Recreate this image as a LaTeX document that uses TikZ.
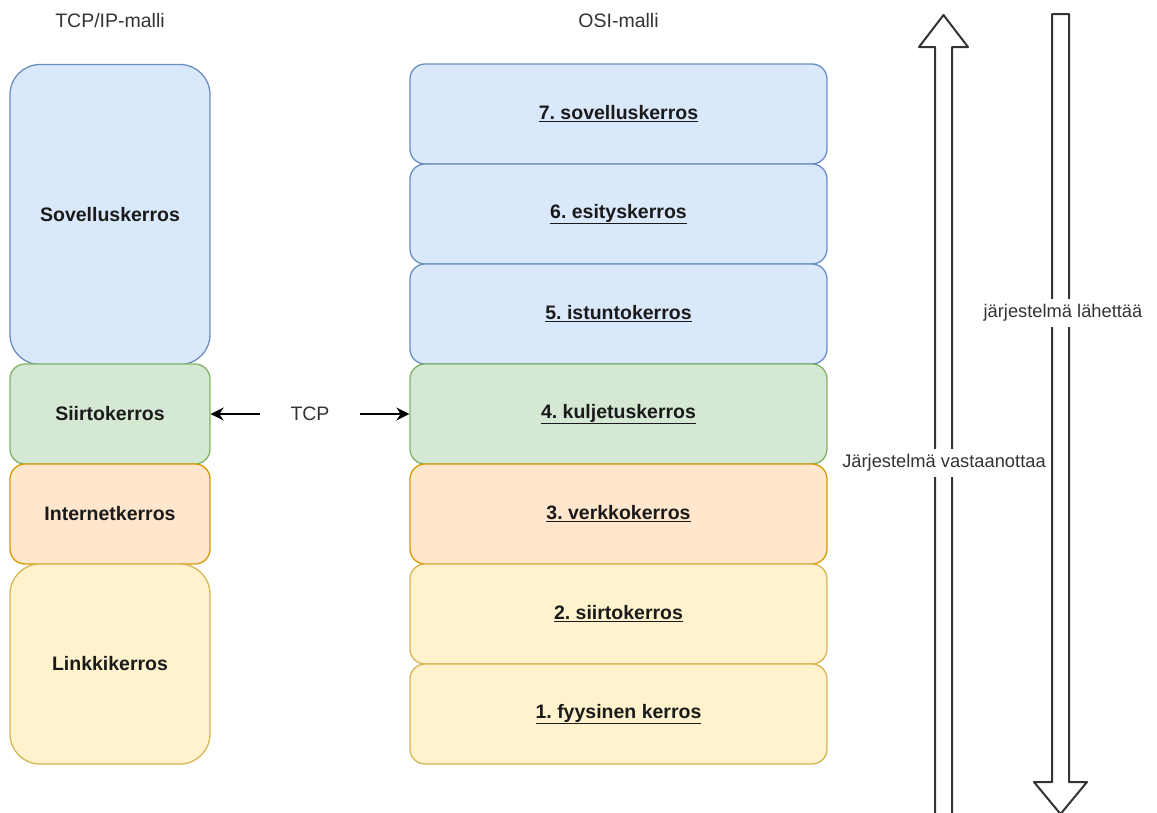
\documentclass[tikz,border=0pt]{standalone}
\usepackage{fontspec}
\setmainfont{Liberation Sans}
\usetikzlibrary{arrows.meta}
\frenchspacing
\definecolor{bluefill}{HTML}{DAE8FC}\definecolor{bluedraw}{HTML}{6C8EBF}
\definecolor{greenfill}{HTML}{D5E8D4}\definecolor{greendraw}{HTML}{82B366}
\definecolor{orangefill}{HTML}{FFE6CC}\definecolor{orangedraw}{HTML}{D79B00}
\definecolor{yellowfill}{HTML}{FFF2CC}\definecolor{yellowdraw}{HTML}{D6B656}
\definecolor{labeltext}{HTML}{1A1A1A}\definecolor{plaintext}{HTML}{333333}
\newcommand{\uline}[1]{\underline{#1}}
\begin{document}
\begin{tikzpicture}[x=1pt,y=-1pt,
  layer/.style={draw, line width=1.3pt, inner sep=0pt, text=labeltext,
    font=\fontsize{19.5}{22}\selectfont\bfseries},
  blue/.style={fill=bluefill, draw=bluedraw},
  green/.style={fill=greenfill, draw=greendraw},
  orange/.style={fill=orangefill, draw=orangedraw},
  yellow/.style={fill=yellowfill, draw=yellowdraw},
  tcplayer/.style={layer, minimum width=200pt, rounded corners=15pt},
  osilayer/.style={layer, minimum width=417pt, minimum height=100pt, rounded corners=15pt},
  title/.style={text=plaintext, font=\fontsize{19.5}{22}\selectfont},
  flowlabel/.style={fill=white, text=plaintext, inner xsep=1pt, inner ysep=5pt,
    font=\fontsize{18.3}{21}\selectfont},
  tcparrow/.style={line width=2pt, -{Stealth[length=13pt,width=13pt]}},
  bigarrow/.style={draw=plaintext, fill=white, line width=2pt, line join=round},
]
\useasboundingbox (0,0) rectangle (1157,812);
\clip (0,0) rectangle (1157,812);

% titles
\node[title] (tcpiptitle) at (110,21) {TCP/IP-malli};
\node[title] (osititle) at (618.5,21) {OSI-malli};

% TCP/IP model
\node[tcplayer, blue, minimum height=300pt, rounded corners=30pt] (sov) at (110,214.5) {Sovelluskerros};
\node[tcplayer, green, minimum height=100pt] (siirto) at (110,414) {Siirtokerros};
\node[tcplayer, orange, minimum height=100pt] (internet) at (110,514) {Internetkerros};
\node[tcplayer, yellow, minimum height=200pt, rounded corners=30pt] (linkki) at (110,664) {Linkkikerros};

% OSI model
\node[osilayer, blue] (osi7) at (618.5,114) {\uline{7. sovelluskerros}};
\node[osilayer, blue] (osi6) at (618.5,214) {\uline{6. esityskerros}};
\node[osilayer, blue] (osi5) at (618.5,314) {\uline{5. istuntokerros}};
\node[osilayer, green] (osi4) at (618.5,414) {\uline{4. kuljetuskerros}};
\node[osilayer, orange] (osi3) at (618.5,514) {\uline{3. verkkokerros}};
\node[osilayer, yellow] (osi2) at (618.5,614) {\uline{2. siirtokerros}};
\node[osilayer, yellow] (osi1) at (618.5,714) {\uline{1. fyysinen kerros}};

% TCP between the transport layers
\node[title, minimum width=100pt, minimum height=20pt, inner sep=0pt] (tcp) at (310,414) {TCP};
\draw[tcparrow] (tcp.west) -- (siirto.east);
\draw[tcparrow] (tcp.east) -- (osi4.west);

% direction arrows
\path[bigarrow] (935,830) -- (935,47) -- (919,47) -- (943.5,15) -- (968,47)
  -- (952,47) -- (952,830) -- cycle;
\path[bigarrow] (1052,14) -- (1052,782) -- (1034,782) -- (1060.5,814) -- (1087,782)
  -- (1069,782) -- (1069,14) -- cycle;
\node[flowlabel] (receive) at (944,463) {Järjestelmä vastaanottaa};
\node[flowlabel] (send) at (1063,313) {järjestelmä lähettää};
\end{tikzpicture}
\end{document}
